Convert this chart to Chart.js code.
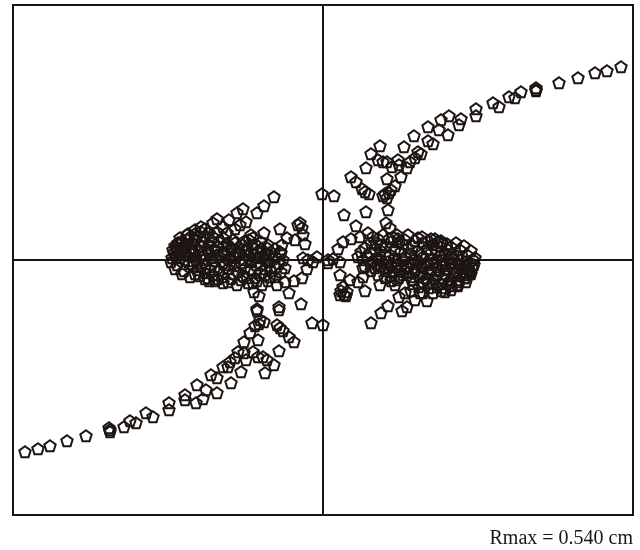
<!DOCTYPE html>
<html><head><meta charset="utf-8">
<style>html,body{margin:0;padding:0;background:#fff}canvas{display:block}</style>
<script src="https://cdn.jsdelivr.net/npm/chart.js@4"></script>
</head><body><canvas id="c" width="640" height="550"></canvas>
<script>
const footerText = "Rmax = 0.540 cm";
const xLimit = 310, yLimit = 255;
const upperBranch = [[298,193],[284,189],[272,187],[255,182],[236,177],[213,172],[213,170],[213,169],[198,168],[192,162],[186,163],[176,153],[170,157],[153,151],[153,144],[138,141],[136,135],[126,144],[118,140],[116,130],[125,125],[105,133],[91,124],[81,113],[105,119],[110,116],[95,108],[98,106],[57,114],[48,106],[55,100],[60,98],[64,98],[69,93],[75,100],[76,95],[84,92],[87,98],[92,102],[43,92],[64,81],[78,83],[72,74],[28,83],[33,78],[39,71],[42,68],[46,66],[62,66],[66,67],[60,64],[64,62],[68,70],[11,64],[-1,66]];
const lowerBranch = [[-298,-192],[-285,-189],[-273,-186],[-256,-181],[-237,-176],[-214,-168],[-213,-170],[-213,-172],[-199,-167],[-193,-161],[-187,-163],[-177,-153],[-170,-157],[-154,-143],[-154,-150],[-138,-135],[-138,-140],[-126,-125],[-127,-143],[-120,-139],[-117,-130],[-106,-133],[-112,-115],[-106,-118],[-92,-123],[-82,-112],[-100,-107],[-95,-107],[-93,-102],[-88,-98],[-85,-92],[-79,-93],[-77,-100],[-70,-92],[-65,-97],[-60,-97],[-56,-100],[-49,-105],[-58,-113],[-79,-82],[-65,-80],[-73,-73],[-44,-91],[-68,-66],[-64,-64],[-59,-62],[-63,-60],[-46,-65],[-43,-68],[-40,-71],[-34,-77],[-29,-82],[-11,-63],[0,-65],[-66,-51],[-44,-50]];
const rightEdge = [[21,45],[43,48],[65,50],[63,37],[33,34],[67,32],[20,18],[28,21],[37,23],[45,27],[50,23],[60,25],[74,25],[75,21],[85,25],[99,23],[112,21],[119,17],[128,13],[137,10],[144,5],[150,0],[151,-5],[147,-13],[142,-18],[134,-25],[122,-32],[110,-33],[104,-41],[92,-40],[84,-47],[79,-51],[65,-46],[58,-53],[48,-63],[76,-37],[82,-33],[97,-33],[105,-23],[90,-24],[76,-18],[68,-21],[57,-25],[42,-31],[21,-35],[17,-35],[24,-32],[20,-27],[18,-31],[23,-36],[17,-15],[27,-20],[35,-22],[40,-17],[40,-8],[35,3],[15,11],[10,1],[17,-2],[5,-3]];
const leftEdge = [[-49,63],[-59,54],[-66,47],[-80,51],[-86,47],[-77,38],[-83,35],[-94,40],[-106,41],[-110,37],[-122,33],[-59,27],[-70,22],[-78,19],[-43,31],[-23,37],[-21,32],[-25,35],[-20,25],[-18,16],[-28,20],[-36,22],[-41,15],[-43,8],[-56,12],[-20,2],[-15,0],[-6,3],[-10,-2],[5,0],[-16,-9],[-21,-18],[-29,-21],[-38,-22],[-46,-25],[-34,-33],[-22,-44],[-44,-47],[-66,-49],[-64,-36],[-69,-32],[-61,-25],[-75,-23],[-86,-25],[-100,-23],[-114,-21],[-128,-14],[-139,-11],[-146,-5],[-151,2],[-150,10],[-145,17],[-136,25]];
const rightLobe = [[55,21],[70,23],[82,20],[95,22],[105,19],[115,18],[48,17],[58,15],[68,18],[80,16],[90,14],[100,17],[110,15],[118,13],[125,10],[42,12],[52,11],[63,13],[72,10],[85,12],[95,9],[104,11],[113,10],[122,7],[130,6],[38,8],[47,7],[58,9],[67,5],[78,8],[88,6],[98,5],[108,7],[117,4],[126,3],[134,4],[44,4],[54,2],[62,5],[72,2],[82,3],[92,1],[100,3],[110,1],[120,0],[130,1],[138,0],[143,-2],[40,0],[50,-1],[57,1],[65,-2],[73,-1],[80,0],[87,-2],[95,-1],[103,-3],[111,-2],[119,-4],[127,-3],[135,-4],[142,-6],[147,-3],[47,-3],[54,-5],[60,-3],[68,-5],[75,-4],[83,-6],[90,-4],[98,-6],[106,-5],[114,-7],[122,-6],[130,-8],[138,-8],[145,-9],[149,-7],[42,-7],[52,-8],[58,-6],[65,-8],[72,-7],[78,-9],[85,-8],[92,-10],[100,-8],[108,-10],[116,-11],[124,-10],[132,-12],[140,-12],[146,-11],[48,-11],[62,-11],[70,-12],[76,-11],[84,-13],[92,-12],[99,-14],[106,-13],[114,-15],[122,-14],[130,-16],[137,-16],[144,-15],[55,-15],[68,-16],[80,-15],[88,-17],[96,-16],[104,-18],[112,-19],[120,-18],[128,-20],[136,-20],[142,-18],[62,-18],[74,-20],[90,-20],[100,-22],[110,-23],[118,-24],[126,-23],[134,-22],[96,-27],[106,-28],[114,-27],[122,-28],[128,-26]];
const leftLobe = [[-55,-21],[-70,-23],[-82,-20],[-95,-22],[-105,-19],[-115,-18],[-48,-17],[-58,-15],[-68,-18],[-80,-16],[-90,-14],[-100,-17],[-110,-15],[-118,-13],[-125,-10],[-42,-12],[-52,-11],[-63,-13],[-72,-10],[-85,-12],[-95,-9],[-104,-11],[-113,-10],[-122,-7],[-130,-6],[-38,-8],[-47,-7],[-58,-9],[-67,-5],[-78,-8],[-88,-6],[-98,-5],[-108,-7],[-117,-4],[-126,-3],[-134,-4],[-44,-4],[-54,-2],[-62,-5],[-72,-2],[-82,-3],[-92,-1],[-100,-3],[-110,-1],[-120,0],[-130,-1],[-138,0],[-143,2],[-40,0],[-50,1],[-57,-1],[-65,2],[-73,1],[-80,0],[-87,2],[-95,1],[-103,3],[-111,2],[-119,4],[-127,3],[-135,4],[-142,6],[-147,3],[-47,3],[-54,5],[-60,3],[-68,5],[-75,4],[-83,6],[-90,4],[-98,6],[-106,5],[-114,7],[-122,6],[-130,8],[-138,8],[-145,9],[-149,7],[-42,7],[-52,8],[-58,6],[-65,8],[-72,7],[-78,9],[-85,8],[-92,10],[-100,8],[-108,10],[-116,11],[-124,10],[-132,12],[-140,12],[-146,11],[-48,11],[-62,11],[-70,12],[-76,11],[-84,13],[-92,12],[-99,14],[-106,13],[-114,15],[-122,14],[-130,16],[-137,16],[-144,15],[-55,15],[-68,16],[-80,15],[-88,17],[-96,16],[-104,18],[-112,19],[-120,18],[-128,20],[-136,20],[-142,18],[-62,18],[-74,20],[-90,20],[-100,22],[-110,23],[-118,24],[-126,23],[-134,22],[-96,27],[-106,28],[-114,27],[-122,28],[-128,26]];
const leftExtra = [[-135,26],[-128,30],[-118,31],[-100,33],[-88,31],[-72,25],[-148,14],[-143,22],[-152,-2],[-148,-9],[-141,-14],[-133,-17],[-124,-16],[-118,-19],[-108,-21],[-92,-19],[-76,-18],[-66,-21],[-53,-17]];
const rightExtra = [[135,-26],[128,-30],[118,-31],[100,-33],[88,-31],[72,-25],[148,-14],[143,-22],[152,2],[148,9],[141,14],[133,17],[124,16],[118,19],[108,21],[92,19],[76,18],[66,21],[53,17]];

const ink = "#1c1512";
function pentagon() {
  const s = 18, c = document.createElement("canvas");
  c.width = s; c.height = s;
  const g = c.getContext("2d");
  g.beginPath();
  for (let i = 0; i < 5; i++) {
    const a = -Math.PI / 2 + i * 2 * Math.PI / 5;
    g.lineTo(s / 2 + 6 * Math.cos(a), s / 2 + 0.3 + 6 * Math.sin(a));
  }
  g.closePath();
  g.lineWidth = 2; g.strokeStyle = ink; g.lineJoin = "miter"; g.stroke();
  return c;
}
const marker = pentagon();
const toPts = a => a.map(p => ({x: p[0], y: p[1]}));
const series = [upperBranch, lowerBranch, rightEdge, leftEdge, rightLobe, leftLobe, leftExtra, rightExtra];
const frame = {id: "frame", afterDraw(ch) {
  const a = ch.chartArea, g = ch.ctx;
  g.save(); g.strokeStyle = ink; g.lineWidth = 2;
  g.strokeRect(a.left, a.top, a.right - a.left, a.bottom - a.top);
  g.restore();
}};
const axisGrid = {
  color: c => c.tick && c.tick.value === 0 ? ink : "rgba(0,0,0,0)",
  lineWidth: 2, drawTicks: false, drawOnChartArea: true
};
new Chart(document.getElementById("c"), {
  type: "scatter",
  data: {datasets: series.map(s => ({data: toPts(s), pointStyle: marker, pointRadius: 6, showLine: false}))},
  plugins: [frame],
  options: {
    responsive: false, animation: false, devicePixelRatio: 1,
    layout: {autoPadding: false, padding: {left: 13, right: 7, top: 5, bottom: 0}},
    scales: {
      x: {type: "linear", min: -xLimit, max: xLimit, ticks: {display: false, stepSize: xLimit}, grid: axisGrid, border: {display: false}},
      y: {type: "linear", min: -yLimit, max: yLimit, ticks: {display: false, stepSize: yLimit}, grid: axisGrid, border: {display: false}}
    },
    plugins: {
      legend: {display: false}, tooltip: {enabled: false},
      title: {display: true, text: footerText, position: "bottom", align: "end", color: "#1c1512",
        font: {family: "'Liberation Serif'", size: 20, weight: "normal"}, padding: {top: 12, bottom: -1}}
    }
  }
});
</script></body></html>
